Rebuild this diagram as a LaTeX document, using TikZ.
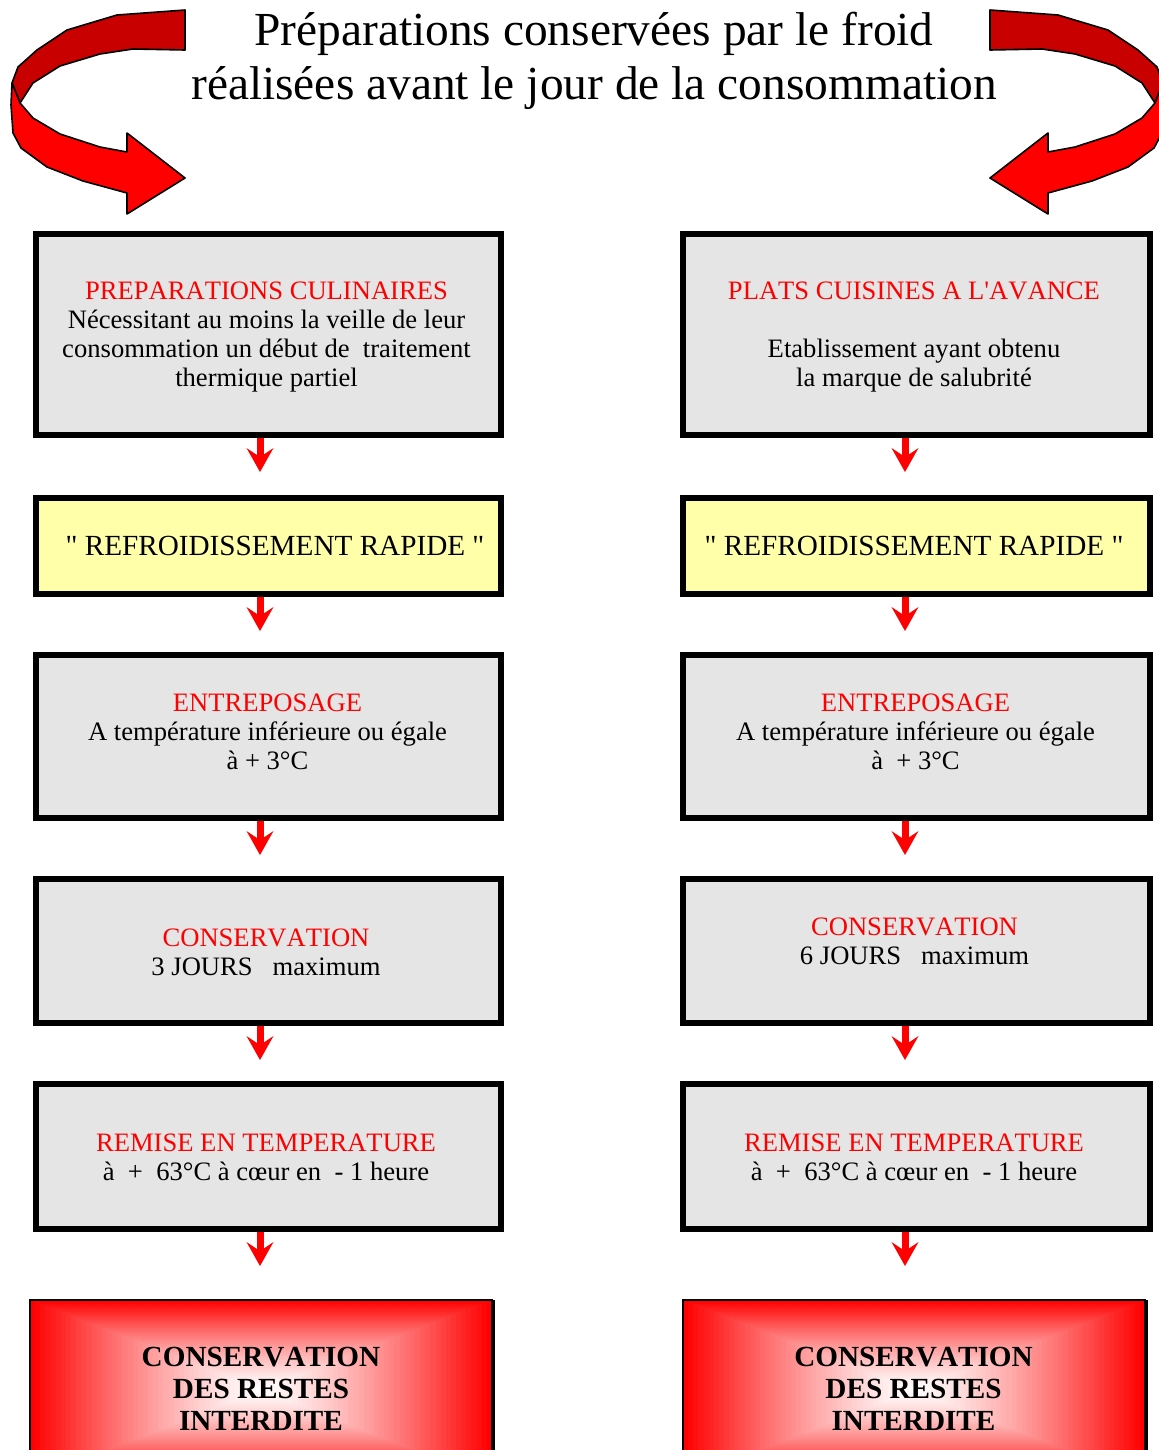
\documentclass[tikz,border=0pt]{standalone}
\usepackage{fontspec}
% plain serif family without TeX quote mapping, so " and ' stay straight
\newfontfamily\plainserif{Liberation Serif}[Kerning=Off]
\usetikzlibrary{arrows.meta,calc}
\definecolor{boxgrey}{HTML}{E5E5E5}
\definecolor{boxyellow}{HTML}{FFFFAA}
\definecolor{ribbondark}{HTML}{C80000}
\definecolor{ribbonred}{HTML}{FF0000}
\definecolor{headred}{HTML}{FF0000}
\begin{document}
\begin{tikzpicture}[x=0.5pt,y=-0.5pt,
  greybox/.style={rectangle, draw=black, line width=3pt, fill=boxgrey, inner sep=0pt, outer sep=0pt},
  yellowbox/.style={greybox, fill=boxyellow},
  alertbox/.style={rectangle, draw=black, line width=0.6pt, inner sep=0pt, outer sep=0pt,
    minimum width=231pt, minimum height=90pt},
  leftcol/.style={minimum width=232.5pt},
  rightcol/.style={minimum width=233.5pt},
  boxtext/.style={font=\plainserif\fontsize{13.3}{14.5}\selectfont, align=center, anchor=base, inner sep=0pt},
  coolingtext/.style={font=\plainserif\fontsize{14.6}{16}\selectfont, align=center, anchor=base, inner sep=0pt},
  alerttext/.style={font=\plainserif\fontsize{14.6}{16}\selectfont\bfseries, align=center, anchor=base, inner sep=0pt},
  flowarrow/.style={draw=red, line width=3.5pt, shorten <=1.5pt,
    -{Stealth[length=12pt,width=13.5pt,inset=4.5pt,line width=0pt]}},
  ribbonline/.style={draw=black, line width=0.8pt, line join=round},
  ribbon/.pic={
    \filldraw[ribbonline, fill=ribbondark]
      (185,10) -- (117,15) -- (67,30) -- (37,50) -- (18,67) -- (12,83) -- (20,103)
      -- (33,83) -- (60,66) -- (100,54) -- (133,49) -- (185,50) -- cycle;
    \filldraw[ribbonline, fill=ribbonred]
      (12,83) -- (11,105) -- (13,133) -- (21,148) -- (47,167) -- (83,181) -- (127,193)
      -- (127,214) -- (185,178) -- (127,133) -- (127,152) -- (100,147) -- (60,134)
      -- (33,118) -- (20,103) -- cycle;
  }]
\useasboundingbox (0,0) rectangle (1159,1450);
\clip (0,0) rectangle (1159,1450);

% curved arrows round the heading
\pic at (0,0) {ribbon};
\pic[xscale=-1] at (1175,0) {ribbon};

% heading
\node[font=\plainserif\fontsize{23.7}{27.5}\selectfont, align=center, anchor=base, inner sep=0pt] (title) at (594,100)
  {Préparations conservées par le froid\\réalisées avant le jour de la consommation};

% left column boxes
\node[greybox, leftcol, minimum height=100.5pt] (l1) at (268.5,334.5) {};
\node[yellowbox, leftcol, minimum height=48pt] (l2) at (268.5,546) {};
\node[greybox, leftcol, minimum height=81.5pt] (l3) at (268.5,736.5) {};
\node[greybox, leftcol, minimum height=72pt] (l4) at (268.5,951) {};
\node[greybox, leftcol, minimum height=72.5pt] (l5) at (268.5,1156.5) {};

% right column boxes
\node[greybox, rightcol, minimum height=100.5pt] (r1) at (916.5,334.5) {};
\node[yellowbox, rightcol, minimum height=48pt] (r2) at (916.5,546) {};
\node[greybox, rightcol, minimum height=81.5pt] (r3) at (916.5,736.5) {};
\node[greybox, rightcol, minimum height=72pt] (r4) at (916.5,951) {};
\node[greybox, rightcol, minimum height=72.5pt] (r5) at (916.5,1156.5) {};

% red boxes with a rectangular gradient from the edges to a white core
\foreach \cx in {261,914} {
  \foreach \i in {0,...,44} {
    \pgfmathsetmacro\t{\i/45}
    \pgfmathsetmacro\p{100*(1-\t)^1.3}
    \fill[red!\p!white] ({\cx-231*(1-\t)},{1390-90*(1-\t)}) rectangle ({\cx+231*(1-\t)},{1390+90*(1-\t)});
  }
}
\node[alertbox] (l6) at (261,1390) {};
\node[alertbox] (r6) at (914,1390) {};
\fill[black] (l6.north east) rectangle ++(3,200);
\fill[black] (r6.north east) rectangle ++(3,200);

% texts, left column
\node[boxtext] (tl1) at (266.5,386) {\textcolor{headred}{PREPARATIONS CULINAIRES}\\Nécessitant au moins la veille de leur\\consommation un début de\ \ traitement\\thermique partiel};
\node[coolingtext] (tl2) at (275,555) {" REFROIDISSEMENT RAPIDE "};
\node[boxtext] (tl3) at (267.5,769) {\textcolor{headred}{ENTREPOSAGE}\\A température inférieure ou égale\\à + 3°C};
\node[boxtext] (tl4) at (266,975) {\textcolor{headred}{CONSERVATION}\\3 JOURS\ \ \ maximum};
\node[boxtext] (tl5) at (266,1180) {\textcolor{headred}{REMISE EN TEMPERATURE}\\à\ \ +\ \ 63°C à cœur en\ \ - 1 heure};
\node[alerttext] (tl6) at (261,1430) {CONSERVATION\\DES RESTES\\INTERDITE};

% texts, right column
\node[boxtext] (tr1) at (914,386) {\textcolor{headred}{PLATS CUISINES A L'AVANCE}\\[14.5pt]Etablissement ayant obtenu\\la marque de salubrité};
\node[coolingtext] (tr2) at (914,555) {" REFROIDISSEMENT RAPIDE "};
\node[boxtext] (tr3) at (915.5,769) {\textcolor{headred}{ENTREPOSAGE}\\A température inférieure ou égale\\à\ \ + 3°C};
\node[boxtext] (tr4) at (914.5,964) {\textcolor{headred}{CONSERVATION}\\6 JOURS\ \ \ maximum};
\node[boxtext] (tr5) at (914,1180) {\textcolor{headred}{REMISE EN TEMPERATURE}\\à\ \ +\ \ 63°C à cœur en\ \ - 1 heure};
\node[alerttext] (tr6) at (913.5,1430) {CONSERVATION\\DES RESTES\\INTERDITE};

% arrow columns
\coordinate (colL) at (260,0);
\coordinate (colR) at (905,0);

% downward arrows between the steps
\foreach \a in {1,...,5} {
  \path (l\a.south -| colL) ++(0,37) coordinate (el\a);
  \draw[flowarrow] (l\a.south -| colL) -- (el\a);
  \path (r\a.south -| colR) ++(0,37) coordinate (er\a);
  \draw[flowarrow] (r\a.south -| colR) -- (er\a);
}
\end{tikzpicture}
\end{document}
